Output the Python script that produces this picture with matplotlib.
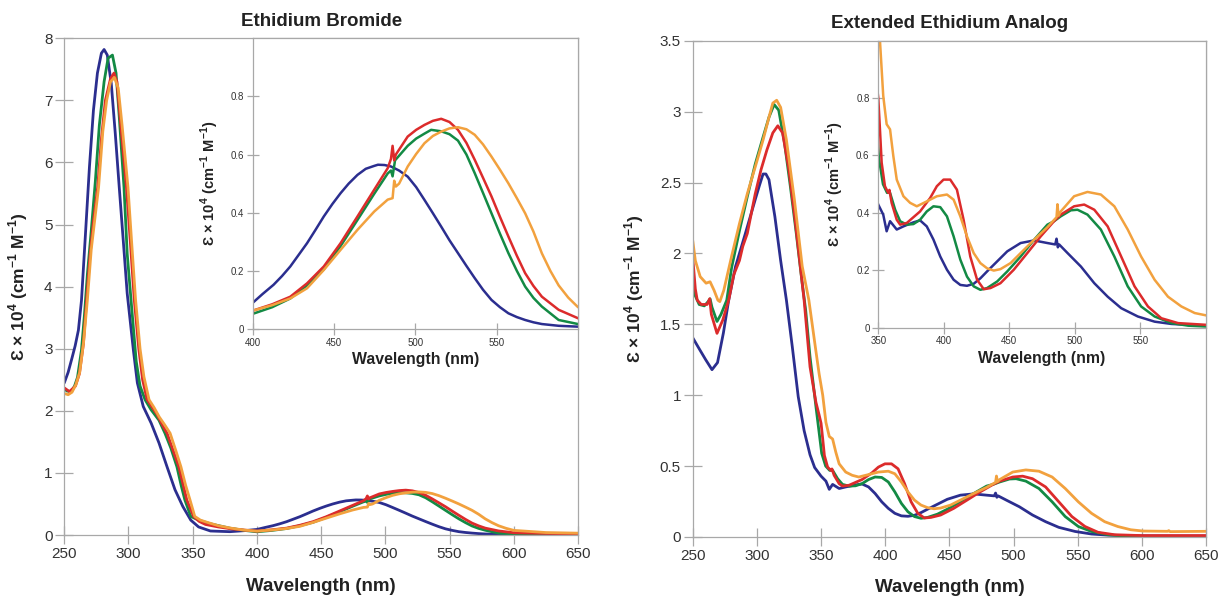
import numpy as np
import matplotlib
matplotlib.use("Agg")
import matplotlib.pyplot as plt
from matplotlib.ticker import FuncFormatter

plt.rcParams['font.family'] = ['Liberation Sans', 'DejaVu Sans']
plt.rcParams['mathtext.fontset'] = 'custom'
plt.rcParams['mathtext.rm'] = 'Liberation Sans'
plt.rcParams['mathtext.bf'] = 'Liberation Sans:bold'

# colours of the four samples
c_blue = '#2b2e8f'
c_green = '#138a44'
c_red = '#dc2b2b'
c_orange = '#f2a13e'

# ---- Ethidium Bromide (wavelength nm, epsilon x 1e4) ----
eb_blue_wl = [250, 253, 256, 258.5, 261, 263.4, 266.5, 269.6, 272.7, 275.8, 278.9, 281, 283.5, 286.6,
              289.7, 292.8, 295.9, 299, 303.8, 306.9, 311.5, 317.7, 323.8, 330, 336.2, 342.3, 348.5,
              354.6, 363.8, 379, 390, 400, 406, 412.8, 418, 423.1, 428, 433.4, 438.5, 443.7, 449, 454,
              459, 464.4, 469.5, 474.7, 477, 481, 485, 490, 495.3, 500.5, 505.6, 510.8, 515.9, 521,
              526.2, 531.4, 536.5, 541.6, 546.8, 552, 557.2, 562.4, 567.5, 572.6, 577.8, 588.1, 600, 625, 650]
eb_blue = [2.45, 2.62, 2.85, 3.05, 3.3, 3.78, 4.85, 5.93, 6.84, 7.44, 7.76, 7.82, 7.73, 7.27,
           6.47, 5.6, 4.75, 3.89, 2.98, 2.45, 2.07, 1.8, 1.48, 1.1, 0.73, 0.46, 0.24,
           0.13, 0.065, 0.054, 0.07, 0.09, 0.12, 0.152, 0.182, 0.215, 0.253, 0.295, 0.34, 0.387, 0.43, 0.467,
           0.5, 0.53, 0.551, 0.561, 0.565, 0.564, 0.559, 0.545, 0.524, 0.488, 0.444, 0.398, 0.352, 0.305,
           0.261, 0.217, 0.175, 0.135, 0.10, 0.075, 0.054, 0.041, 0.031, 0.023, 0.017, 0.011, 0.008, 0.007, 0.006]

eb_green_wl = [250, 252, 255.6, 258, 260.3, 263.4, 265.8, 268, 271, 274.2, 277.3, 281, 284.1, 287.5,
               290.3, 292.8, 296.5, 299, 302, 306, 309, 312.9, 317.5, 323.7, 328.4, 333, 337.7, 341,
               343.9, 348.5, 354.6, 364, 379, 392, 400, 412, 423.1, 433.4, 443.7, 454, 464.4, 474.7, 483,
               485, 486, 487.5, 495.3, 500.5, 505.6, 509.7, 515.9, 521, 526.2, 531.4, 536.5, 541.6,
               546.8, 552, 557.2, 562.4, 567.5, 572.6, 577.8, 588.1, 600, 625, 650]
eb_green = [2.36, 2.32, 2.31, 2.4, 2.54, 2.98, 3.57, 4.2, 4.9, 5.7, 6.6, 7.3, 7.68, 7.73,
            7.44, 6.74, 5.6, 4.53, 3.78, 2.8, 2.4, 2.18, 2.02, 1.85, 1.64, 1.4, 1.1, 0.8,
            0.565, 0.3, 0.24, 0.18, 0.11, 0.07, 0.052, 0.075, 0.105, 0.15, 0.205, 0.285, 0.375, 0.465, 0.535,
            0.545, 0.525, 0.58, 0.63, 0.655, 0.672, 0.685, 0.68, 0.67, 0.648, 0.6, 0.536, 0.468,
            0.398, 0.328, 0.261, 0.2, 0.146, 0.107, 0.077, 0.031, 0.017, 0.012, 0.012]

eb_red_wl = [250, 254, 258.7, 261.8, 264.9, 267.4, 270, 273, 276, 279, 282, 286, 288.7, 291, 294,
             298.4, 301.5, 304.5, 308, 311, 314.5, 322, 327, 330, 339.2, 345.4, 350.7, 355, 360,
             370, 380, 390, 400, 412, 423.1, 433.4, 443.7, 454, 464.4, 474.7, 483, 485, 486, 487, 488,
             495.3, 500.5, 505.6, 510.8, 515.9, 521, 526.2, 531.4, 536.5, 541.6, 546.8, 552, 557.2,
             562.4, 567.5, 572.6, 577.8, 588.1, 600, 625, 650]
eb_red = [2.37, 2.31, 2.4, 2.6, 3.08, 3.79, 4.5, 5.1, 5.6, 6.4, 7.0, 7.35, 7.44, 7.3, 6.6,
          5.6, 4.7, 3.79, 3.0, 2.5, 2.18, 1.95, 1.75, 1.64, 1.1, 0.565, 0.3, 0.22, 0.17,
          0.13, 0.1, 0.08, 0.063, 0.085, 0.111, 0.157, 0.215, 0.295, 0.387, 0.479, 0.553, 0.585, 0.63, 0.58, 0.6,
          0.662, 0.685, 0.702, 0.716, 0.723, 0.712, 0.685, 0.64, 0.582, 0.52, 0.456, 0.386, 0.318,
          0.252, 0.192, 0.148, 0.111, 0.066, 0.037, 0.025, 0.02]

eb_orange_wl = [250, 253, 256, 259, 262, 265, 268, 271, 276.7, 280, 283, 286, 289, 292, 295, 299.6,
                302.5, 305.5, 309, 312, 316, 320, 324, 328, 332.4, 337, 340.8, 344.5, 347.9, 351.6,
                356, 362, 370, 380, 390, 400, 412, 423.1, 433.4, 443.7, 454, 464.4, 474.7, 483, 486, 487,
                488, 490, 495.3, 500.5, 505.6, 510.8, 515.9, 521, 526.2, 531.4, 536.5, 541.6, 546.8,
                552, 557.2, 562.4, 567.5, 572.6, 577.8, 583, 588.1, 594, 600, 625, 650]
eb_orange = [2.28, 2.26, 2.3, 2.42, 2.62, 3.1, 3.79, 4.6, 5.6, 6.5, 7.0, 7.3, 7.37, 7.2, 6.6, 5.6,
             4.7, 3.79, 3.0, 2.55, 2.18, 2.05, 1.9, 1.78, 1.64, 1.35, 1.1, 0.8, 0.565, 0.3,
             0.24, 0.2, 0.15, 0.11, 0.08, 0.063, 0.082, 0.105, 0.14, 0.203, 0.272, 0.341, 0.404, 0.445, 0.45, 0.51,
             0.49, 0.5, 0.559, 0.602, 0.639, 0.664, 0.679, 0.69, 0.694, 0.687, 0.668, 0.635, 0.593,
             0.548, 0.501, 0.45, 0.398, 0.335, 0.26, 0.2, 0.15, 0.108, 0.075, 0.04, 0.03]

# ---- Extended Ethidium Analog ----
ex_blue_wl = [250, 255.5, 260.1, 265, 269.3, 273.9, 278, 283.3, 291, 298.7, 302, 304.8, 307, 309.4,
              314, 318.5, 323, 327.6, 332.2, 336.8, 341.4, 345, 350, 353.8, 356.4, 359, 364.1, 369.2,
              376.8, 381.9, 387, 392.1, 397.3, 402.4, 407.5, 412.6, 417.7, 422.8, 427.9, 433, 440.7,
              448.4, 458.6, 468.8, 479, 485, 486, 487, 488, 494.4, 504.6, 514.8, 525, 535.3, 548,
              560.8, 573.6, 586.4, 600, 625, 650]
ex_blue = [1.405, 1.32, 1.25, 1.18, 1.23, 1.44, 1.67, 1.906, 2.14, 2.38, 2.48, 2.56, 2.56, 2.52,
           2.26, 1.95, 1.67, 1.34, 0.99, 0.75, 0.58, 0.49, 0.429, 0.394, 0.336, 0.371, 0.342, 0.353,
           0.367, 0.374, 0.353, 0.307, 0.248, 0.202, 0.167, 0.149, 0.146, 0.153, 0.172, 0.196, 0.231,
           0.266, 0.295, 0.304, 0.295, 0.29, 0.31, 0.28, 0.29, 0.26, 0.213, 0.155, 0.108, 0.068, 0.039,
           0.021, 0.013, 0.01, 0.008, 0.007, 0.007]

ex_green_wl = [250, 252, 255, 259, 262, 263.5, 265, 268.9, 272, 276.5, 280.3, 286.4, 292.5, 298.7,
               304.8, 309.4, 313.4, 317, 321.5, 326.1, 330.7, 335.3, 338, 341.4, 346, 350.5, 353.6,
               356.7, 359, 362.9, 366.7, 371.8, 376.8, 381.9, 387, 392.1, 397.3, 402.4, 407.5, 412.6,
               417.7, 422.8, 427.9, 433, 440.7, 448.4, 458.6, 468.8, 479, 484.1, 489.2, 496.9, 502,
               509.6, 519.8, 530.1, 540.3, 550.5, 560.8, 573.6, 586.4, 600, 625, 650]
ex_green = [1.8, 1.7, 1.64, 1.63, 1.66, 1.68, 1.62, 1.52, 1.57, 1.67, 1.9, 2.16, 2.4, 2.63,
            2.82, 2.96, 3.05, 3.01, 2.78, 2.47, 2.14, 1.79, 1.6, 1.27, 0.92, 0.59, 0.5,
            0.47, 0.47, 0.411, 0.371, 0.359, 0.361, 0.376, 0.405, 0.423, 0.42, 0.388, 0.318, 0.237,
            0.178, 0.144, 0.132, 0.138, 0.161, 0.196, 0.248, 0.306, 0.359, 0.371, 0.388, 0.409, 0.411,
            0.394, 0.342, 0.248, 0.144, 0.074, 0.039, 0.016, 0.007, 0.004, 0.004, 0.004]

ex_red_wl = [250, 252, 253.5, 256.6, 261.2, 263.2, 264.5, 268.9, 273.4, 278, 282, 286.4, 289, 292.5,
             298.7, 303.2, 307.8, 312.4, 316.3, 320, 324.6, 329.2, 333.8, 336.8, 341.4, 346, 348.5,
             350, 351.3, 352.6, 355.1, 357.6, 358.5, 360.2, 364.1, 366.7, 371.8, 381.9, 389.6, 394.7,
             399.8, 404.9, 410, 415.1, 420.2, 425.4, 430.5, 435.6, 443.2, 453.4, 463.7, 473.9, 484.1,
             489.2, 499.4, 507.1, 514.8, 525, 535.3, 545.5, 555.7, 565.9, 578.7, 600, 625, 650]
ex_red = [1.97, 1.75, 1.67, 1.64, 1.64, 1.68, 1.57, 1.436, 1.53, 1.67, 1.85, 1.95, 2.05, 2.14,
          2.42, 2.59, 2.73, 2.85, 2.9, 2.85, 2.61, 2.28, 1.91, 1.67, 1.2, 0.95, 0.86,
          0.802, 0.691, 0.575, 0.493, 0.47, 0.48, 0.435, 0.376, 0.359, 0.365, 0.405, 0.452, 0.493,
          0.516, 0.516, 0.481, 0.376, 0.248, 0.167, 0.134, 0.138, 0.155, 0.202, 0.26, 0.318, 0.371,
          0.394, 0.423, 0.429, 0.411, 0.353, 0.248, 0.144, 0.074, 0.033, 0.016, 0.01, 0.01, 0.01]

ex_orange_wl = [250, 252, 255.8, 260.4, 263.5, 266.6, 269.6, 271.1, 274.2, 280.3, 286.4, 292.5, 298.7,
                304.8, 309.4, 312.4, 315.4, 318.5, 323, 329.2, 335.3, 340.5, 346, 348.5, 351.3, 353.8,
                356.4, 359, 361.5, 364.1, 369.2, 374.3, 379.4, 387, 394.7, 402.4, 407.5, 412.6, 417.7,
                422.8, 427.9, 433, 438.1, 443.2, 450.9, 458.6, 468.8, 479, 484, 486, 486.7, 487.5,
                489.2, 499.4, 509.6, 519.8, 530.1, 540.3, 550.5, 560.8, 571, 581.2, 591.4, 601, 620,
                621, 622, 650]
ex_orange = [2.09, 1.95, 1.836, 1.79, 1.8, 1.74, 1.67, 1.66, 1.74, 1.98, 2.21, 2.42, 2.61,
             2.8, 2.96, 3.06, 3.08, 3.03, 2.8, 2.38, 1.91, 1.67, 1.31, 1.15, 1.0, 0.808,
             0.709, 0.691, 0.598, 0.516, 0.458, 0.435, 0.423, 0.44, 0.458, 0.464, 0.446, 0.388, 0.318,
             0.26, 0.225, 0.207, 0.199, 0.204, 0.225, 0.26, 0.306, 0.35, 0.375, 0.385, 0.43, 0.39,
             0.405, 0.458, 0.473, 0.464, 0.423, 0.342, 0.248, 0.167, 0.108, 0.074, 0.051, 0.042, 0.04,
             0.045, 0.038, 0.04]

eb_series = [(eb_blue_wl, eb_blue, c_blue), (eb_green_wl, eb_green, c_green),
             (eb_red_wl, eb_red, c_red), (eb_orange_wl, eb_orange, c_orange)]
ex_series = [(ex_blue_wl, ex_blue, c_blue), (ex_green_wl, ex_green, c_green),
             (ex_red_wl, ex_red, c_red), (ex_orange_wl, ex_orange, c_orange)]

ylab = r'Ɛ × 10$^{\mathbf{4}}$ (cm$^{\mathbf{-1}}$ M$^{\mathbf{-1}}$)'
xlab = 'Wavelength (nm)'
spine_col = '#a8a8a8'
txt_col = '#333333'
fmt = FuncFormatter(lambda v, p: '%g' % v)


def style(ax, size, tick_len, xlab_size, ylab_size):
    for s in ax.spines.values():
        s.set_color(spine_col)
        s.set_linewidth(0.9)
    ax.tick_params(direction='inout', length=tick_len, width=0.9, color=spine_col,
                   labelcolor=txt_col, labelsize=size, pad=2)
    ax.yaxis.set_major_formatter(fmt)
    ax.set_xlabel(xlab, fontsize=xlab_size, fontweight='bold', color='#222222')
    ax.set_ylabel(ylab, fontsize=ylab_size, fontweight='bold', color='#222222')


def draw(ax, series, lw):
    for wl, v, col in series:
        ax.plot(wl, v, color=col, lw=lw, solid_capstyle='round', solid_joinstyle='round')


fig = plt.figure(figsize=(12.22, 5.96), dpi=100)

# left panel
ax1 = fig.add_axes([0.0526, 0.1023, 0.4204, 0.8334])
draw(ax1, eb_series, 2.0)
ax1.set_xlim(250, 650)
ax1.set_ylim(0, 8)
ax1.set_xticks(np.arange(250, 651, 50))
ax1.set_yticks(np.arange(0, 9, 1))
style(ax1, 11, 13, 13.5, 12.5)
ax1.xaxis.labelpad = 12
ax1.yaxis.labelpad = 10
ax1.set_title('Ethidium Bromide', fontsize=13.5, fontweight='bold', color='#222222', pad=9)

in1 = fig.add_axes([0.2068, 0.4480, 0.2662, 0.4878])
draw(in1, eb_series, 1.8)
in1.set_xlim(400, 600)
in1.set_ylim(0, 1.0)
in1.set_xticks([400, 450, 500, 550])
in1.set_yticks([0, 0.2, 0.4, 0.6, 0.8])
style(in1, 7, 8.5, 11.4, 10.5)
in1.xaxis.labelpad = 3
in1.yaxis.labelpad = 7

# right panel
ax2 = fig.add_axes([0.5669, 0.0990, 0.4200, 0.8327])
draw(ax2, ex_series, 2.0)
ax2.set_xlim(250, 650)
ax2.set_ylim(0, 3.5)
ax2.set_xticks(np.arange(250, 651, 50))
ax2.set_yticks(np.arange(0, 3.51, 0.5))
style(ax2, 11, 13, 13.5, 12.5)
ax2.xaxis.labelpad = 12
ax2.yaxis.labelpad = 10
ax2.set_title('Extended Ethidium Analog', fontsize=13.5, fontweight='bold', color='#222222', pad=9)

in2 = fig.add_axes([0.7187, 0.4502, 0.2682, 0.4815])
draw(in2, ex_series, 1.8)
in2.set_xlim(350, 600)
in2.set_ylim(0, 1.0)
in2.set_xticks([350, 400, 450, 500, 550])
in2.set_yticks([0, 0.2, 0.4, 0.6, 0.8])
style(in2, 7, 8.5, 11.4, 10.5)
in2.xaxis.labelpad = 3
in2.yaxis.labelpad = 7

fig.savefig('out.png', dpi=100)
